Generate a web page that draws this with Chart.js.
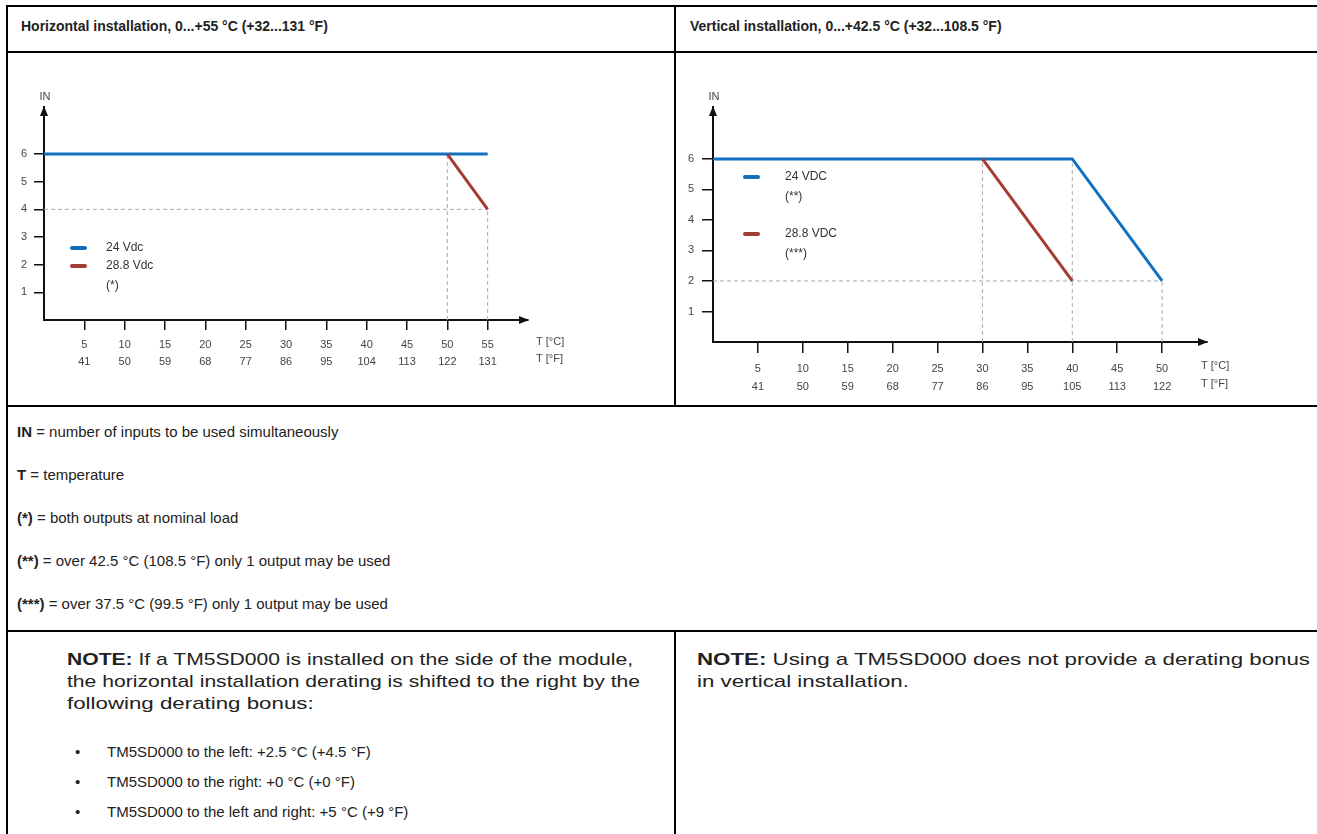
<!DOCTYPE html>
<html>
<head>
<meta charset="utf-8">
<script src="https://cdn.jsdelivr.net/npm/chart.js@4.4.0/dist/chart.umd.min.js"></script>
<style>
body { margin: 0; width: 1317px; height: 834px; overflow: hidden; background: #fff; font-family: "Liberation Sans", Arial, sans-serif; color: #222; }
.ln { position: absolute; background: #000; }
.t { position: absolute; font-size: 15px; line-height: 18px; white-space: nowrap; }
.n { font-size: 17px; line-height: 20px; transform-origin: 0 50%; }
.h { font-weight: bold; font-size: 14px; }
canvas { position: absolute; }
</style>
</head>
<body>
<!-- table lines -->
<div class="ln" style="left:6px;top:5px;width:1311px;height:2px"></div>
<div class="ln" style="left:6px;top:5px;width:2px;height:829px"></div>
<div class="ln" style="left:6px;top:51px;width:1311px;height:2px"></div>
<div class="ln" style="left:674px;top:5px;width:2px;height:402px"></div>
<div class="ln" style="left:6px;top:405px;width:1311px;height:2px"></div>
<div class="ln" style="left:6px;top:630px;width:1311px;height:2px"></div>
<div class="ln" style="left:674px;top:630px;width:2px;height:204px"></div>

<div class="t h" style="left:21px;top:17px">Horizontal installation, 0...+55 °C (+32...131 °F)</div>
<div class="t h" style="left:690px;top:17px">Vertical installation, 0...+42.5 °C (+32...108.5 °F)</div>

<canvas id="chartH" width="666" height="351" style="left:8px;top:54px"></canvas>
<canvas id="chartV" width="641" height="351" style="left:676px;top:54px"></canvas>

<div class="t" style="left:17px;top:423px"><b>IN</b> = number of inputs to be used simultaneously</div>
<div class="t" style="left:17px;top:466px"><b>T</b> = temperature</div>
<div class="t" style="left:17px;top:509px"><b>(*)</b> = both outputs at nominal load</div>
<div class="t" style="left:17px;top:552px"><b>(**)</b> = over 42.5 °C (108.5 °F) only 1 output may be used</div>
<div class="t" style="left:17px;top:595px"><b>(***)</b> = over 37.5 °C (99.5 °F) only 1 output may be used</div>

<div class="t n fit" data-w="566" style="left:67px;top:650px"><b>NOTE:</b> If a TM5SD000 is installed on the side of the module,</div>
<div class="t n fit" data-w="573" style="left:67px;top:672px">the horizontal installation derating is shifted to the right by the</div>
<div class="t n" data-s="1" style="left:67px;top:694px">following derating bonus:</div>
<div class="t" style="left:75px;top:743px">•</div>
<div class="t" style="left:107px;top:743px">TM5SD000 to the left: +2.5 °C (+4.5 °F)</div>
<div class="t" style="left:75px;top:773px">•</div>
<div class="t" style="left:107px;top:773px">TM5SD000 to the right: +0 °C (+0 °F)</div>
<div class="t" style="left:75px;top:803px">•</div>
<div class="t" style="left:107px;top:803px">TM5SD000 to the left and right: +5 °C (+9 °F)</div>

<div class="t n fit" data-w="613" style="left:697px;top:650px"><b>NOTE:</b> Using a TM5SD000 does not provide a derating bonus</div>
<div class="t n" data-s="1" style="left:697px;top:672px">in vertical installation.</div>

<script>
// horizontal installation
var hTempC = [5, 10, 15, 20, 25, 30, 35, 40, 45, 50, 55];
var hTempF = [41, 50, 59, 68, 77, 86, 95, 104, 113, 122, 131];
var h24x = [0, 55];
var h24y = [6, 6];
var h288x = [50, 55];
var h288y = [6, 4];
var hGuideX = [50, 55];
var hGuideTop = [6, 4];
var hGuideLevel = 4;
var hLegend = [['24 Vdc'], ['28.8 Vdc', '(*)']];

// vertical installation
var vTempC = [5, 10, 15, 20, 25, 30, 35, 40, 45, 50];
var vTempF = [41, 50, 59, 68, 77, 86, 95, 105, 113, 122];
var v24x = [0, 40, 50];
var v24y = [6, 6, 2];
var v288x = [30, 40];
var v288y = [6, 2];
var vGuideX = [30, 40, 50];
var vGuideTop = [6, 6, 2];
var vGuideLevel = 2;
var vLegend = [['24 VDC', '(**)'], ['28.8 VDC', '(***)']];

var inTicks = [1, 2, 3, 4, 5, 6];
var seriesNames = ['24 Vdc', '28.8 Vdc'];
var unitLabels = ['T [°C]', 'T [°F]'];

var blue = '#1170c0';
var red = '#a33c32';
var guideColor = '#aaaaaa';
var textColor = '#444';
var fontFamily = '"Liberation Sans", Arial, sans-serif';

// note lines are wider in the original: stretch them to its line widths
var noteScale = 1;
document.querySelectorAll('.fit').forEach(function (el) {
    var s = parseFloat(el.dataset.w) / el.getBoundingClientRect().width;
    el.style.transform = 'scaleX(' + s + ')';
    noteScale = s;
});
document.querySelectorAll('[data-s]').forEach(function (el) {
    el.style.transform = 'scaleX(' + noteScale + ')';
});

function toPoints(xs, ys) {
    return xs.map(function (x, i) { return {x: x, y: ys[i]}; });
}

// arrows, axis names and legend
var decorations = {
    id: 'decorations',
    afterDraw: function (chart, args, opts) {
        var a = chart.chartArea;
        var c = chart.ctx;
        c.save();
        c.fillStyle = '#111';
        c.beginPath();
        c.moveTo(a.left, a.top - 1);
        c.lineTo(a.left - 4, a.top + 9);
        c.lineTo(a.left + 4, a.top + 9);
        c.fill();
        c.beginPath();
        c.moveTo(a.right + 1, a.bottom);
        c.lineTo(a.right - 9, a.bottom - 4);
        c.lineTo(a.right - 9, a.bottom + 4);
        c.fill();

        c.font = '11px ' + fontFamily;
        c.fillStyle = textColor;
        c.textBaseline = 'middle';
        c.textAlign = 'center';
        c.fillText('IN', a.left + 1, a.top - 10);
        c.textAlign = 'left';
        c.fillText(unitLabels[0], a.right + opts.unitDx, a.bottom + opts.unitDy);
        c.fillText(unitLabels[1], a.right + opts.unitDx, a.bottom + opts.unitDy + opts.lineGap);

        c.font = '12px ' + fontFamily;
        c.lineCap = 'round';
        c.lineWidth = 4;
        opts.items.forEach(function (lines, i) {
            var ds = chart.data.datasets[opts.seriesIdx[i]];
            var y = opts.legendY[i];
            c.strokeStyle = ds.borderColor;
            c.beginPath();
            c.moveTo(opts.markX[0], y);
            c.lineTo(opts.markX[1], y);
            c.stroke();
            c.fillStyle = '#333';
            lines.forEach(function (txt, j) {
                c.fillText(txt, opts.textX, y + j * opts.legendGap);
            });
        });
        c.restore();
    }
};

function makeChart(id, cfg) {
    var datasets = [];
    cfg.guideX.forEach(function (x, i) {
        datasets.push({data: [{x: x, y: 0}, {x: x, y: cfg.guideTop[i]}], borderColor: guideColor, borderWidth: 1, borderDash: [4, 3], order: 3});
    });
    datasets.push({data: [{x: 0, y: cfg.guideLevel}, {x: Math.max.apply(null, cfg.guideX), y: cfg.guideLevel}], borderColor: guideColor, borderWidth: 1, borderDash: [4, 3], order: 3});
    var s24 = datasets.length;
    datasets.push({label: seriesNames[0], data: toPoints(cfg.x24, cfg.y24), borderColor: blue, borderWidth: 3, order: 2});
    datasets.push({label: seriesNames[1], data: toPoints(cfg.x288, cfg.y288), borderColor: red, borderWidth: 3, order: 1});

    new Chart(document.getElementById(id), {
        type: 'line',
        data: {datasets: datasets},
        options: {
            responsive: false,
            animation: false,
            events: [],
            layout: {padding: cfg.pad},
            elements: {point: {radius: 0}, line: {tension: 0, borderCapStyle: 'butt'}},
            plugins: {
                legend: {display: false},
                tooltip: {enabled: false},
                decorations: {
                    unitDx: cfg.unitDx, unitDy: cfg.unitDy, lineGap: cfg.lh,
                    items: cfg.legend, seriesIdx: [s24, s24 + 1],
                    legendY: cfg.legendY, legendGap: cfg.legendGap,
                    markX: cfg.markX, textX: cfg.textX
                }
            },
            scales: {
                x: {
                    type: 'linear', min: 0, max: cfg.xMax,
                    afterBuildTicks: function (s) { s.ticks = cfg.tempC.map(function (v) { return {value: v}; }); },
                    afterFit: function (s) { s.height = 60; },
                    grid: {drawOnChartArea: false, drawTicks: true, tickLength: cfg.tickLen, color: '#111', lineWidth: 1.5},
                    border: {display: true, color: '#111', width: 2},
                    ticks: {
                        padding: cfg.padX, color: textColor, maxRotation: 0, autoSkip: false,
                        font: {family: fontFamily, size: 11, lineHeight: cfg.lh + 'px'},
                        callback: function (v, i) { return [String(v), String(cfg.tempF[i])]; }
                    }
                },
                y: {
                    type: 'linear', min: 0, max: 7.7,
                    afterBuildTicks: function (s) { s.ticks = inTicks.map(function (v) { return {value: v}; }); },
                    afterFit: function (s) { s.width = cfg.yWidth; },
                    grid: {drawOnChartArea: false, drawTicks: true, tickLength: cfg.tickLen, color: '#111', lineWidth: 1.5},
                    border: {display: true, color: '#111', width: 2},
                    ticks: {padding: cfg.padY, color: textColor, font: {family: fontFamily, size: 11}}
                }
            }
        },
        plugins: [decorations]
    });
}

makeChart('chartH', {
    tempC: hTempC, tempF: hTempF, x24: h24x, y24: h24y, x288: h288x, y288: h288y,
    guideX: hGuideX, guideTop: hGuideTop, guideLevel: hGuideLevel, legend: hLegend,
    xMax: 60, yWidth: 36, pad: {top: 53, right: 146, bottom: 25, left: 0},
    tickLen: 10, padX: 6, padY: 7, lh: 17, unitDx: 8, unitDy: 22,
    legendY: [194, 212], legendGap: 20, markX: [64, 77], textX: 98
});

makeChart('chartV', {
    tempC: vTempC, tempF: vTempF, x24: v24x, y24: v24y, x288: v288x, y288: v288y,
    guideX: vGuideX, guideTop: vGuideTop, guideLevel: vGuideLevel, legend: vLegend,
    xMax: 55, yWidth: 37, pad: {top: 53, right: 110, bottom: 3, left: 0},
    tickLen: 11, padX: 7, padY: 8, lh: 18, unitDx: -6, unitDy: 24,
    legendY: [123, 180], legendGap: 20, markX: [69, 82], textX: 109
});
</script>
</body>
</html>
